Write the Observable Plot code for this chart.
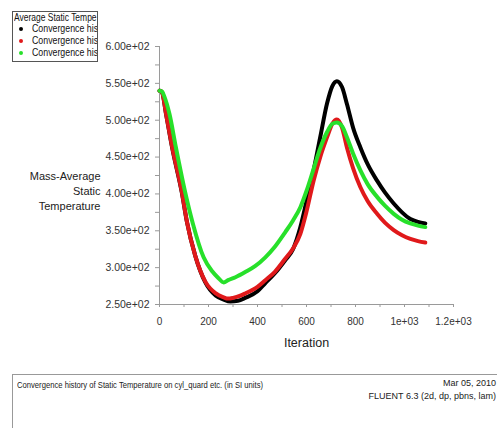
<!DOCTYPE html>
<html>
<head>
<meta charset="utf-8">
<script src="https://cdn.jsdelivr.net/npm/d3@7"></script>
<script src="https://cdn.jsdelivr.net/npm/@observablehq/plot@0.6"></script>
<style>
  html, body { margin: 0; padding: 0; background: #fff; }
  body { width: 497px; height: 428px; overflow: hidden; font-family: "Liberation Sans", Arial, sans-serif; }
  #wrap { position: relative; width: 497px; height: 428px; }
  #chart { position: absolute; left: 0; top: 0; }
  #legend { position: absolute; left: 12px; top: 11px; width: 84px; height: 49px; border: 1px solid #555; overflow: hidden; white-space: nowrap; background: #fff; font-size: 11px; color: #111; }
  #legend .title { position: absolute; left: 1px; top: -1px; transform: scaleX(0.77); transform-origin: 0 50%; }
  #legend .item { position: absolute; left: 19px; }
  #legend .item span.txt { display: inline-block; transform: scaleX(0.8); transform-origin: 0 50%; }
  #legend .dot { position: absolute; left: -13px; top: 5px; width: 4px; height: 4px; border-radius: 50%; }
  #footer { position: absolute; left: 12px; top: 374px; right: 0; bottom: 0; border-top: 1px solid #999; border-left: 1px solid #999; font-size: 9px; color: #222; }
  #footer .left { position: absolute; left: 4px; top: 5px; white-space: nowrap; transform: scaleX(0.85); transform-origin: 0 50%; }
  #footer .right { position: absolute; right: 1px; top: 2px; text-align: right; line-height: 13px; white-space: nowrap; }
</style>
</head>
<body>
<div id="wrap">
  <div id="chart"></div>
  <div id="legend"></div>
  <div id="footer"></div>
</div>
<script>
// ---- data ----
const seriesNames = ["Convergence his", "Convergence his", "Convergence his"];
const seriesColors = ["#000000", "#e0191b", "#27e02a"];
const legendTitle = "Average Static Tempe";

const iterBlack = [0, 10, 27, 52, 91, 112, 146, 187, 230, 260, 290, 320, 350, 400, 432, 470, 513, 545, 575, 600, 629, 656, 684, 705, 724, 745, 765, 790, 820, 850, 888, 920, 956, 990, 1024, 1055, 1085];
const tempBlack = [540, 538, 508, 462, 402, 362, 316, 280, 262, 257, 254, 255, 259, 268, 279, 292, 310, 325, 355, 390, 432, 477, 523, 546, 553, 545, 522, 490, 463, 440, 418, 402, 387, 375, 366, 362, 360];

const iterRed = [0, 10, 27, 52, 91, 112, 146, 187, 230, 260, 280, 300, 330, 350, 400, 432, 470, 513, 545, 575, 600, 629, 656, 684, 705, 724, 745, 765, 790, 820, 850, 888, 920, 956, 990, 1024, 1055, 1085];
const tempRed = [540, 538, 508, 463, 403, 362, 316, 281, 265, 260, 258, 259, 262, 265, 274, 283, 294, 312, 326, 346, 376, 418, 450, 477, 495, 501, 490, 463, 435, 409, 390, 373, 361, 351, 344, 339, 336, 334];

const iterGreen = [0, 10, 20, 41, 67, 105, 136, 180, 215, 240, 262, 280, 310, 350, 390, 432, 470, 513, 545, 575, 600, 629, 656, 684, 705, 724, 745, 765, 790, 820, 850, 888, 920, 956, 990, 1024, 1055, 1085];
const tempGreen = [540, 539, 532, 508, 463, 402, 360, 314, 295, 286, 280, 283, 287, 294, 302, 314, 328, 348, 364, 382, 404, 434, 462, 484, 495, 497, 492, 477, 455, 432, 413, 396, 384, 373, 365, 360, 357, 355];

const yTickValues = [250, 300, 350, 400, 450, 500, 550, 600];
const yTickLabels = ["2.50e+02", "3.00e+02", "3.50e+02", "4.00e+02", "4.50e+02", "5.00e+02", "5.50e+02", "6.00e+02"];
const yMinorTicks = [250, 275, 300, 325, 350, 375, 400, 425, 450, 475, 500, 525, 550, 575, 600];
const xTickValues = [0, 200, 400, 600, 800, 1000, 1200];
const xTickLabels = ["0", "200", "400", "600", "800", "1e+03", "1.2e+03"];
const xMinorTicks = [0, 100, 200, 300, 400, 500, 600, 700, 800, 900, 1000, 1100, 1200];
const xLabel = "Iteration";
const yLabel = "Mass-Average\nStatic\nTemperature";
const footerLeft = "Convergence history of Static Temperature on cyl_quard etc. (in SI units)";
const footerDate = "Mar 05, 2010";
const footerSolver = "FLUENT 6.3 (2d, dp, pbns, lam)";

// ---- build table ----
const iters = [iterBlack, iterRed, iterGreen];
const temps = [tempBlack, tempRed, tempGreen];
const data = iters.flatMap((xs, s) => xs.map((x, i) => ({series: s, iter: x, temp: temps[s][i]})));

const yLab = new Map(yTickValues.map((v, i) => [v, yTickLabels[i]]));
const xLab = new Map(xTickValues.map((v, i) => [v, xTickLabels[i]]));
const FONT = '"Liberation Sans", Arial, sans-serif';

const chart = Plot.plot({
  width: 497,
  height: 360,
  marginLeft: 159,
  marginRight: 44,
  marginTop: 46,
  marginBottom: 56,
  style: {fontFamily: FONT, fontSize: "10px", background: "transparent"},
  x: {domain: [0, 1200]},
  y: {domain: [250, 600]},
  marks: [
    Plot.ruleY([250], {x1: 0, x2: 1200, stroke: "#9a9a9a"}),
    Plot.ruleX([0], {y1: 250, y2: 600, stroke: "#9a9a9a"}),
    Plot.axisY({ticks: yMinorTicks, tickSize: 4, fill: "none", stroke: "#9a9a9a", label: null}),
    Plot.axisY({ticks: yTickValues, tickSize: 0, tickPadding: 10, tickFormat: d => yLab.get(d), fill: "#333", stroke: "none", fontSize: 10.5, label: null}),
    Plot.axisX({ticks: xMinorTicks, tickSize: 3, fill: "none", stroke: "#9a9a9a", label: null}),
    Plot.axisX({ticks: xTickValues, tickSize: 0, tickPadding: 13, tickFormat: d => xLab.get(d), fill: "#333", stroke: "none", label: null}),
    ...[0, 1, 2].map(s => Plot.line(data.filter(d => d.series === s), {
      x: "iter", y: "temp", stroke: seriesColors[s], strokeWidth: 4, curve: "monotone-x",
      strokeLinecap: "round", strokeLinejoin: "round"
    })),
    Plot.text([xLabel], {text: d => d, frameAnchor: "bottom", dy: 38, lineAnchor: "middle", fontSize: 12.5, fill: "#222"}),
    Plot.text([yLabel], {text: d => d, frameAnchor: "left", dx: -59, dy: 15, textAnchor: "end", lineAnchor: "middle", lineHeight: 1.36, fontSize: 11, fill: "#222"})
  ]
});
document.getElementById("chart").appendChild(chart);

// legend
const legend = document.getElementById("legend");
const t = document.createElement("div");
t.className = "title"; t.textContent = legendTitle; legend.appendChild(t);
seriesNames.forEach((name, i) => {
  const it = document.createElement("div");
  it.className = "item";
  it.style.top = (10 + i * 12) + "px";
  const dot = document.createElement("span");
  dot.className = "dot"; dot.style.background = seriesColors[i];
  it.appendChild(dot);
  const tx = document.createElement("span");
  tx.className = "txt"; tx.textContent = name;
  it.appendChild(tx);
  legend.appendChild(it);
});

// footer
const footer = document.getElementById("footer");
const fl = document.createElement("div"); fl.className = "left"; fl.textContent = footerLeft; footer.appendChild(fl);
const fr = document.createElement("div"); fr.className = "right";
const d1 = document.createElement("div"); d1.textContent = footerDate; fr.appendChild(d1);
const d2 = document.createElement("div"); d2.textContent = footerSolver; fr.appendChild(d2);
footer.appendChild(fr);
</script>
</body>
</html>
